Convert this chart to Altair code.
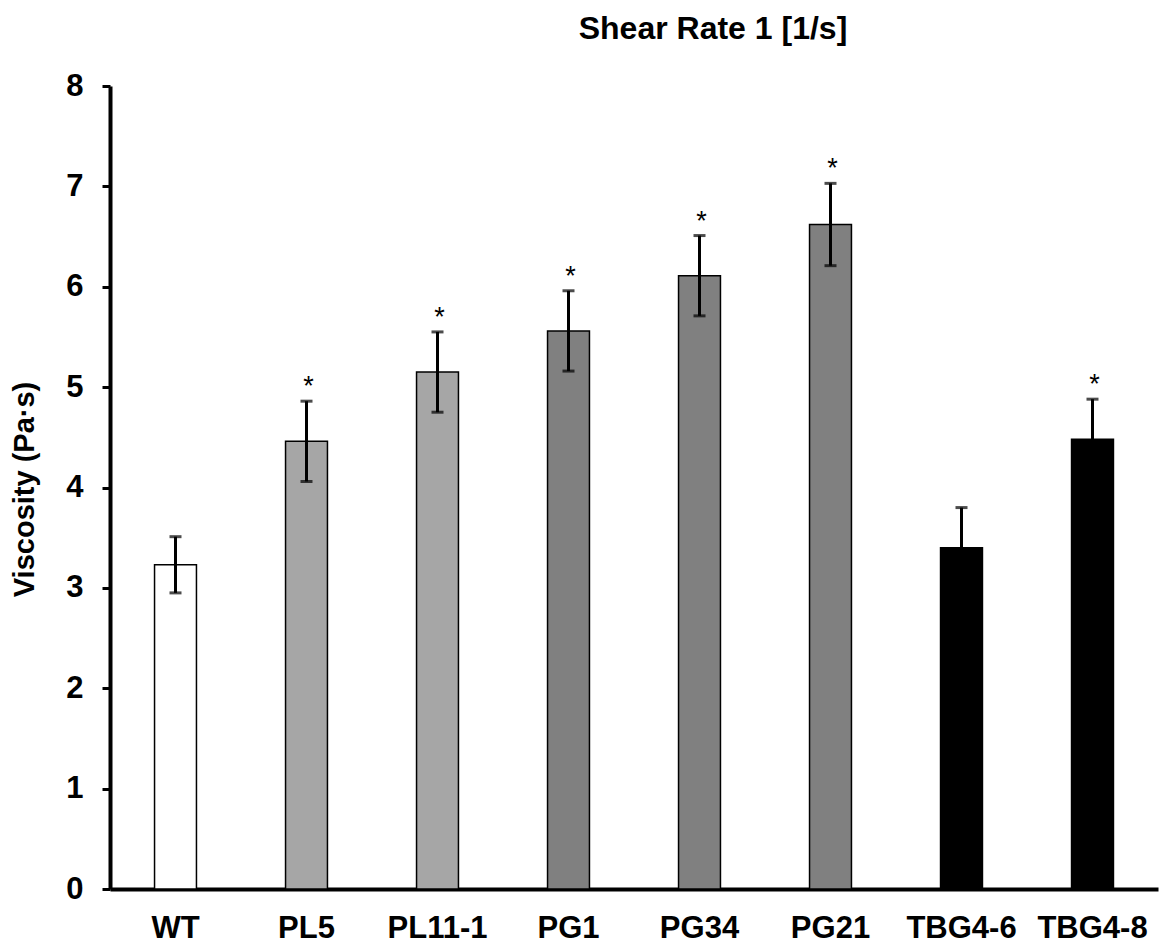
import altair as alt
import pandas as pd

categories = ["WT", "PL5", "PL11-1", "PG1", "PG34", "PG21", "TBG4-6", "TBG4-8"]
viscosity = [3.23, 4.46, 5.15, 5.56, 6.11, 6.62, 3.40, 4.48]
errors = [0.28, 0.40, 0.40, 0.40, 0.40, 0.41, 0.40, 0.40]
significance = ["", "*", "*", "*", "*", "*", "", "*"]
bar_colors = ["#ffffff", "#a6a6a6", "#a6a6a6", "#808080", "#808080", "#808080", "#000000", "#000000"]
y_ticks = [0, 1, 2, 3, 4, 5, 6, 7, 8]

df = pd.DataFrame({
    "cat": categories,
    "v": viscosity,
    "e": errors,
    "sig": significance,
})
df["lo"] = df["v"] - df["e"]
df["hi"] = df["v"] + df["e"]

FONT = "Liberation Sans"

x_enc = alt.X(
    "cat:N",
    sort=categories,
    scale=alt.Scale(paddingInner=0.68, paddingOuter=0.34),
    axis=alt.Axis(
        title=None,
        labelAngle=0,
        ticks=False,
        tickSize=0,
        domainColor="black",
        domainWidth=4,
        labelFont=FONT,
        labelFontSize=31,
        labelFontWeight="bold",
        labelColor="black",
        labelPadding=24,
    ),
)

y_scale = alt.Scale(domain=[0, 8], nice=False)

bars = alt.Chart(df).mark_bar(stroke="black", strokeWidth=1.5).encode(
    x=x_enc,
    y=alt.Y(
        "v:Q",
        scale=y_scale,
        axis=alt.Axis(
            values=y_ticks,
            format="d",
            grid=False,
            tickSize=8,
            tickWidth=3,
            tickColor="black",
            domainColor="black",
            domainWidth=4,
            labelFont=FONT,
            labelFontSize=31,
            labelFontWeight="bold",
            labelColor="black",
            labelPadding=19,
            title="Viscosity (Pa·s)",
            titleFont=FONT,
            titleFontSize=29,
            titleFontWeight="bold",
            titleColor="black",
            titleX=-71,
            titleY=403,
            titleAngle=270,
            titleAlign="center",
        ),
    ),
    fill=alt.Color("cat:N", scale=alt.Scale(domain=categories, range=bar_colors), legend=None),
)

rule = alt.Chart(df).mark_rule(color="black", strokeWidth=3).encode(
    x=alt.X("cat:N", sort=categories),
    y=alt.Y("lo:Q", scale=y_scale),
    y2="hi:Q",
)

cap_lo = alt.Chart(df).mark_tick(color="black", thickness=3, size=12).encode(
    x=alt.X("cat:N", sort=categories),
    y=alt.Y("lo:Q", scale=y_scale),
)

cap_hi = alt.Chart(df).mark_tick(color="black", thickness=3, size=12).encode(
    x=alt.X("cat:N", sort=categories),
    y=alt.Y("hi:Q", scale=y_scale),
)

stars = alt.Chart(df).mark_text(
    font=FONT, fontSize=27, color="black", baseline="alphabetic", dy=-6, dx=2
).encode(
    x=alt.X("cat:N", sort=categories),
    y=alt.Y("hi:Q", scale=y_scale),
    text="sig:N",
)

chart = alt.layer(bars, rule, cap_lo, cap_hi, stars).properties(
    width=1048,
    height=803,
    title=alt.TitleParams(
        "Shear Rate 1 [1/s]",
        font=FONT,
        fontSize=32,
        fontWeight="bold",
        color="black",
        anchor="middle",
        dx=79,
        offset=24,
    ),
    autosize=alt.AutoSizeParams(type="none"),
    padding={"left": 102, "top": 78, "right": 1, "bottom": 60},
).configure_view(stroke=None)

chart.save("out.html", embed_options={"renderer": "svg", "actions": False})
